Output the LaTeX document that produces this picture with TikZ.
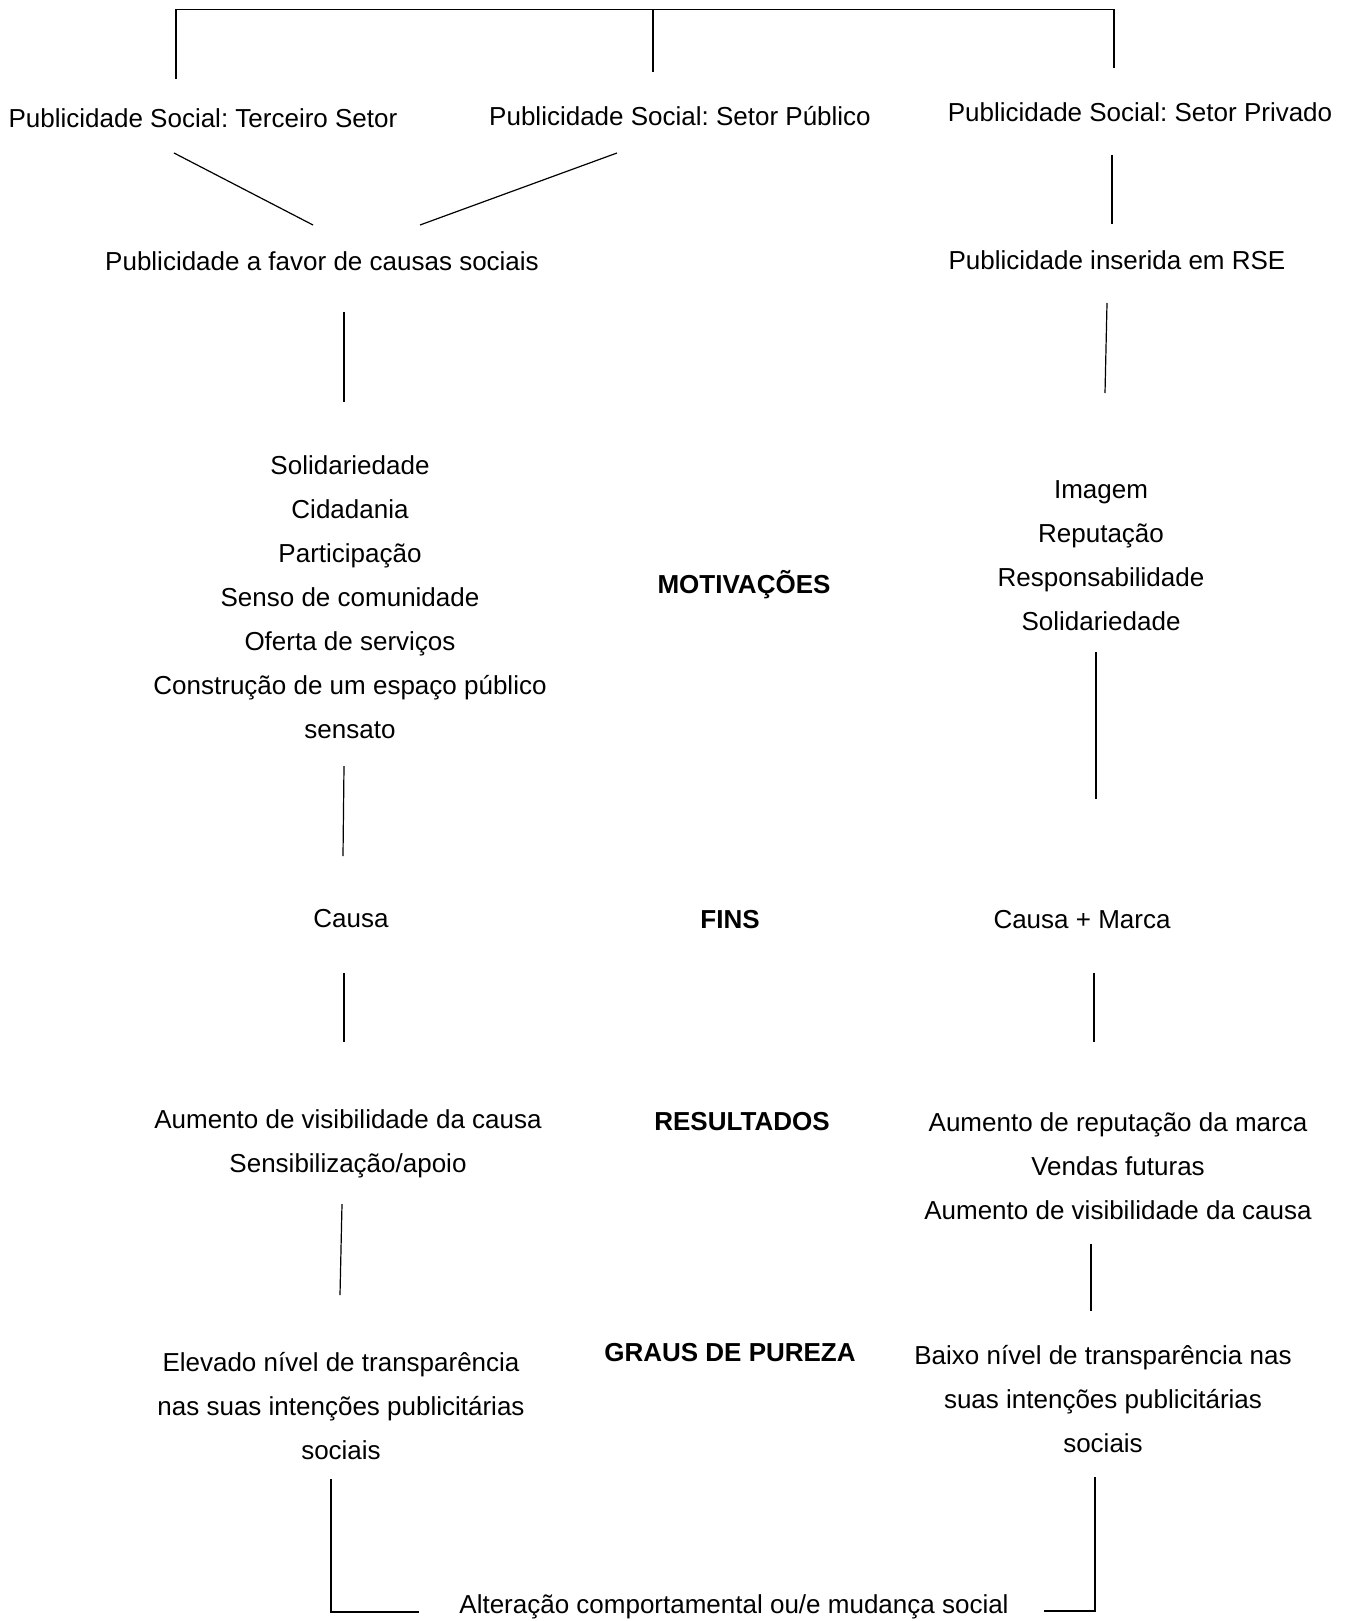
\documentclass[tikz,border=0pt]{standalone}
\usepackage{fontspec}
\setmainfont{Liberation Sans}
\frenchspacing
\begin{document}
\begin{tikzpicture}[x=1pt,y=-1pt,
  txt/.style={inner sep=0pt,align=center,font=\fontsize{26}{44}\selectfont\frenchspacing},
  head/.style={inner sep=0pt,align=center,font=\fontsize{26}{44}\selectfont\bfseries},
  conn/.style={line width=1.2pt,black}]
\fill[white] (0,0) rectangle (1349,1621);
\useasboundingbox (0,0) rectangle (1349,1621);

% text nodes
\node[txt] (ps1) at (203,118) {Publicidade Social: Terceiro Setor};
\node[txt] (ps2) at (680,116) {Publicidade Social: Setor Público};
\node[txt] (ps3) at (1140,112) {Publicidade Social: Setor Privado};
\node[txt] (pac) at (322,261) {Publicidade a favor de causas sociais};
\node[txt] (pir) at (1117,260) {Publicidade inserida em RSE};
\node[txt] (motL) at (350,597) {Solidariedade\\Cidadania\\Participação\\Senso de comunidade\\Oferta de serviços\\Construção de um espaço público\\sensato};
\node[head] (hMot) at (744,585) {MOTIVAÇÕES};
\node[txt] (motR) at (1101,556) {Imagem\\Reputação\\Responsabilidade\\Solidariedade};
\node[txt] (causaL) at (351,919) {Causa};
\node[head] (hFins) at (730,920) {FINS};
\node[txt] (causaR) at (1082,920) {Causa + Marca};
\node[txt] (resL) at (348,1144) {Aumento de visibilidade da causa\\Sensibilização/apoio};
\node[head] (hRes) at (742,1122) {RESULTADOS};
\node[txt] (resR) at (1118,1166) {Aumento de reputação da marca\\Vendas futuras\\Aumento de visibilidade da causa};
\node[txt] (purL) at (341,1406) {Elevado nível de transparência\\nas suas intenções publicitárias\\sociais};
\node[head] (hPur) at (730,1353) {GRAUS DE PUREZA};
\node[txt] (purR) at (1103,1399) {Baixo nível de transparência nas\\suas intenções publicitárias\\sociais};
\node[txt] (alt) at (734,1607) {Alteração comportamental ou/e mudança social};

% connector end points
\coordinate (b1) at (176,79);
\coordinate (b1t) at (176,9.5);
\coordinate (b3t) at (1114,9.5);
\coordinate (b3) at (1114,68);
\coordinate (b2t) at (653,9.5);
\coordinate (b2) at (653,72);
\coordinate (d1a) at (174,153); \coordinate (d1b) at (313,225);
\coordinate (d2a) at (617,153); \coordinate (d2b) at (420,225);
\coordinate (r1a) at (1112,155); \coordinate (r1b) at (1112,224);
\coordinate (l1a) at (344,312); \coordinate (l1b) at (344,402);
\coordinate (r2a) at (1107,303); \coordinate (r2b) at (1105,393);
\coordinate (l2a) at (344,766); \coordinate (l2b) at (343,856);
\coordinate (r3a) at (1096,652); \coordinate (r3b) at (1096,799);
\coordinate (l3a) at (344,973); \coordinate (l3b) at (344,1042);
\coordinate (r4a) at (1094,973); \coordinate (r4b) at (1094,1042);
\coordinate (l4a) at (342,1204); \coordinate (l4b) at (340,1295);
\coordinate (r5a) at (1091,1244); \coordinate (r5b) at (1091,1311);
\coordinate (l5a) at (331,1479); \coordinate (l5c) at (331,1612); \coordinate (l5b) at (419,1612);
\coordinate (r6a) at (1095,1477); \coordinate (r6c) at (1095,1611); \coordinate (r6b) at (1044,1611);

% connectors
\draw[conn] (b1) -- (b1t) -- (b3t) -- (b3);
\draw[conn] (b2t) -- (b2);
\draw[conn] (d1a) -- (d1b);
\draw[conn] (d2a) -- (d2b);
\draw[conn] (r1a) -- (r1b);
\draw[conn] (l1a) -- (l1b);
\draw[conn] (r2a) -- (r2b);
\draw[conn] (l2a) -- (l2b);
\draw[conn] (r3a) -- (r3b);
\draw[conn] (l3a) -- (l3b);
\draw[conn] (r4a) -- (r4b);
\draw[conn] (l4a) -- (l4b);
\draw[conn] (r5a) -- (r5b);
\draw[conn] (l5a) -- (l5c) -- (l5b);
\draw[conn] (r6a) -- (r6c) -- (r6b);
\end{tikzpicture}
\end{document}
